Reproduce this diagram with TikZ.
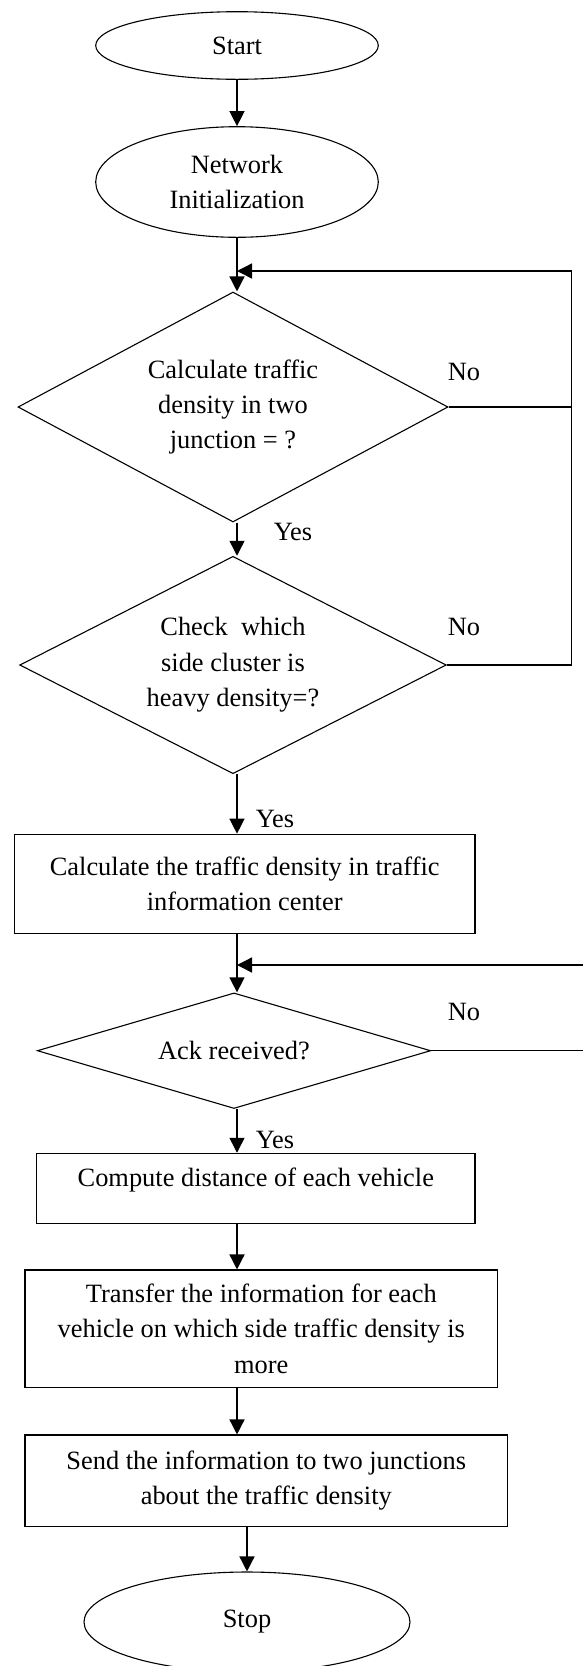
\documentclass[tikz,border=0pt]{standalone}
\usepackage{fontspec}
\setmainfont{Liberation Serif}
\usetikzlibrary{shapes.geometric,arrows.meta}

\begin{document}
\begin{tikzpicture}[x=0.5pt,y=-0.5pt,
    font=\fontsize{13.2}{17.7}\selectfont,
    terminal/.style ={ellipse, draw, line width=0.55pt, inner sep=0pt, align=center},
    decision/.style ={diamond, draw, line width=0.55pt, inner sep=0pt, align=center},
    process/.style ={rectangle, draw, line width=0.55pt, inner sep=0pt, align=center},
    flow/.style ={line width=0.7pt, -{Triangle[length=7.5pt,width=7.5pt]}},
    plain/.style ={line width=0.6pt},
    answer/.style ={inner sep=0pt}]
   \useasboundingbox (0,0) rectangle (583,1666);

   \node[terminal, minimum width=141.3pt, minimum height=33.8pt] (start) at (237,45.5) {Start};
   \node[terminal, minimum width=141.3pt, minimum height=55.3pt] (init) at (237,182) {Network\\Initialization};
   \node[decision, minimum width=215pt, minimum height=115pt, aspect=1.87] (junction) at (233,407) {Calculate traffic\\density in two\\junction = ?};
   \node[decision, minimum width=213.3pt, minimum height=108.7pt, aspect=1.96] (cluster) at (233,665) {Check\ \ which\\side cluster is\\heavy density=?};
   \node[process, minimum width=230.3pt, minimum height=49.8pt] (center) at (244.7,884) {Calculate the traffic density in traffic\\information center};
   \node[decision, minimum width=196.7pt, minimum height=57.8pt, aspect=3.4] (ack) at (234,1050.7) {Ack received?};
   \node[process, minimum width=219.2pt, minimum height=35pt, text height=9pt, text depth=11pt] (distance) at (255.8,1188.3) {Compute distance of each vehicle};
   \node[process, minimum width=236.3pt, minimum height=58.7pt] (transfer) at (261.3,1328.7) {Transfer the information for each\\vehicle on which side traffic density is\\more};
   \node[process, minimum width=241.3pt, minimum height=45.8pt] (send) at (266.3,1480.8) {Send the information to two junctions\\about the traffic density};
   \node[terminal, minimum width=163pt, minimum height=50pt] (stop) at (247,1622) {Stop};

   \node[answer] (no1) at (464,372) {No};
   \node[answer] (no2) at (464,627) {No};
   \node[answer] (no3) at (464,1012) {No};
   \node[answer] (yes1) at (293,532) {Yes};
   \node[answer] (yes2) at (275,819) {Yes};
   \node[answer] (yes3) at (275,1140) {Yes};

   \coordinate (loopA) at (571.7,271);
   \coordinate (loopB) at (592,965);

   \draw[flow] (start) -- (init);
   \draw[flow] (init) -- (init |- junction.north);
   \draw[flow] (junction.south -| init) -- (cluster.north -| init);
   \draw[flow] (cluster.south -| init) -- (center.north -| init);
   \draw[flow] (center.south -| init) -- (ack.north -| init);
   \draw[flow] (ack.south -| init) -- (distance.north -| init);
   \draw[flow] (distance.south -| init) -- (transfer.north -| init);
   \draw[flow] (transfer.south -| init) -- (send.north -| init);
   \draw[flow] (send.south -| stop) -- (stop.north);

   \draw[plain] (junction.east) -- (junction.east -| loopA);
   \draw[flow] (cluster.east) -- (cluster.east -| loopA) -- (loopA) -- (init |- loopA);
   \draw[flow] (ack.east) -- (ack.east -| loopB) -- (loopB) -- (init |- loopB);
 \end{tikzpicture}
\end{document}
